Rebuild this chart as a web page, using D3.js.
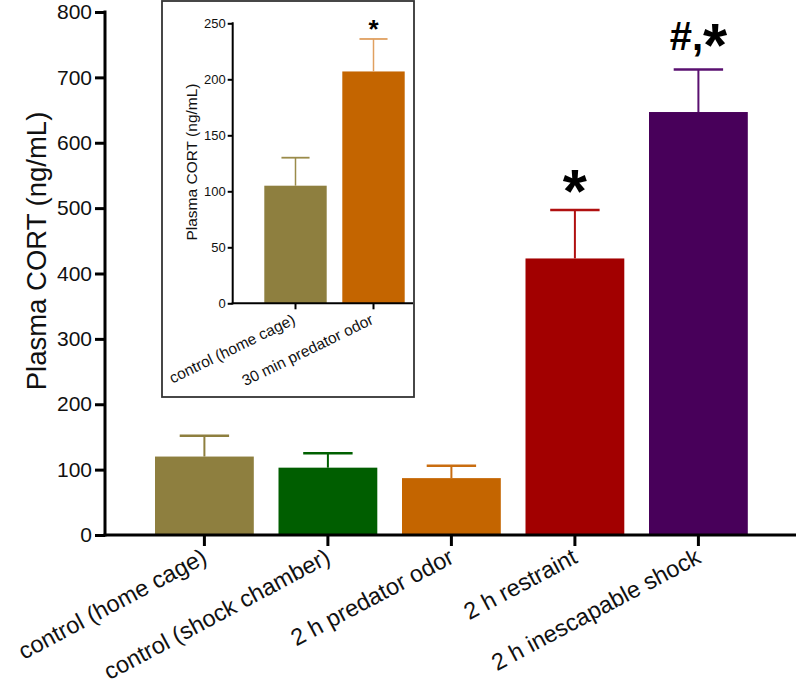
<!DOCTYPE html>
<html><head><meta charset="utf-8">
<script src="https://cdn.jsdelivr.net/npm/d3@7"></script>
<style>body{margin:0;background:#fff}svg{display:block}text{font-family:"Liberation Sans",Arial,sans-serif}</style>
</head><body>
<svg id="c" width="800" height="687"></svg>
<script>
const categories = ["control (home cage)", "control (shock chamber)", "2 h predator odor", "2 h restraint", "2 h inescapable shock"];
const means = [120, 103, 87, 423, 647];
const sems = [32, 22, 19, 74, 65];
const colors = ["#8e7f3f", "#005e00", "#c46500", "#a20000", "#48005a"];
const errColors = ["#8e7f3f", "#006000", "#c96d10", "#b01010", "#5a1070"];
const marks = ["", "", "", "*", "#,*"];
const yTicks = [0, 100, 200, 300, 400, 500, 600, 700, 800];

const insetCategories = ["control (home cage)", "30 min predator odor"];
const insetMeans = [105, 207];
const insetSems = [25, 29];
const insetColors = ["#8e7f3f", "#c46500"];
const insetErrColors = ["#9a8b4a", "#e0a060"];
const insetMarks = ["", "*"];
const insetTicks = [0, 50, 100, 150, 200, 250];

const svg = d3.select("#c");
const FONT = '"Liberation Sans",Arial,sans-serif';

// ---------- main chart ----------
const y = d3.scaleLinear().domain([0, 800]).range([535, 12]);
const x = d3.scaleBand().domain(categories).range([130.3, 772.5]).padding(0.2);
const g = svg.append("g");

g.selectAll("rect.bar").data(categories).join("rect")
  .attr("x", d => x(d)).attr("width", x.bandwidth())
  .attr("y", (d, i) => y(means[i])).attr("height", (d, i) => y(0) - y(means[i]))
  .attr("fill", (d, i) => colors[i]);

const capW = x.bandwidth() * 0.5;
g.selectAll("line.ev").data(categories).join("line")
  .attr("x1", d => x(d) + x.bandwidth() / 2).attr("x2", d => x(d) + x.bandwidth() / 2)
  .attr("y1", (d, i) => y(means[i])).attr("y2", (d, i) => y(means[i] + sems[i]))
  .attr("stroke", (d, i) => errColors[i]).attr("stroke-width", 2);
g.selectAll("line.ec").data(categories).join("line")
  .attr("x1", d => x(d) + x.bandwidth() / 2 - capW / 2).attr("x2", d => x(d) + x.bandwidth() / 2 + capW / 2)
  .attr("y1", (d, i) => y(means[i] + sems[i])).attr("y2", (d, i) => y(means[i] + sems[i]))
  .attr("stroke", (d, i) => errColors[i]).attr("stroke-width", 2.5);

// significance marks
categories.forEach((c, i) => {
  if (!marks[i]) return;
  const cx = x(c) + x.bandwidth() / 2;
  const t = g.append("text").attr("x", cx).attr("text-anchor", "middle").attr("font-weight", "bold").attr("fill", "#000");
  if (marks[i] === "*") {
    t.attr("y", y(means[i] + sems[i]) + 2).attr("font-size", 62).text("*");
  } else {
    t.attr("y", y(means[i] + sems[i]) - 20);
    t.append("tspan").attr("font-size", 40).text("#,");
    t.append("tspan").attr("font-size", 62).attr("dy", 16).text("*");
  }
});

// y axis
const yAxis = g.append("g").attr("transform", "translate(105,0)")
  .call(d3.axisLeft(y).tickValues(yTicks).tickSize(10).tickPadding(3).tickSizeOuter(0));
yAxis.select(".domain").attr("stroke-width", 3).attr("d", "M0,10.5V536.5");
yAxis.selectAll(".tick line").attr("stroke-width", 3);
yAxis.selectAll(".tick text").attr("font-size", 21).attr("fill", "#111").attr("font-family", FONT);

// x axis
const xAxis = g.append("g").attr("transform", "translate(0,535)")
  .call(d3.axisBottom(x).tickSize(11).tickSizeOuter(0).tickPadding(6));
xAxis.select(".domain").attr("stroke-width", 3).attr("d", "M103.5,0H796");
xAxis.selectAll(".tick line").attr("stroke-width", 3);
xAxis.selectAll(".tick text").attr("font-size", 23.5).attr("fill", "#111")
  .attr("font-family", FONT)
  .attr("text-anchor", "end").attr("dy", 0).attr("x", -9.15).attr("y", 25.7)
  .attr("transform", "rotate(-28)");

g.append("text").attr("transform", "translate(46,251) rotate(-90)").attr("text-anchor", "middle")
  .attr("font-size", 27.5).attr("fill", "#111").text("Plasma CORT (ng/mL)");

// ---------- inset ----------
const ins = svg.append("g");
ins.append("rect").attr("x", 162).attr("y", 1).attr("width", 252).attr("height", 396)
  .attr("fill", "#fff").attr("stroke", "#333").attr("stroke-width", 1.8);

const iy = d3.scaleLinear().domain([0, 250]).range([303.3, 23.3]);
const ix = d3.scaleBand().domain(insetCategories).range([248.7, 420.3]).padding(0.2);

ins.selectAll("rect.ib").data(insetCategories).join("rect")
  .attr("x", d => ix(d)).attr("width", ix.bandwidth())
  .attr("y", (d, i) => iy(insetMeans[i])).attr("height", (d, i) => iy(0) - iy(insetMeans[i]))
  .attr("fill", (d, i) => insetColors[i]);
const icap = ix.bandwidth() * 0.45;
ins.selectAll("line.iev").data(insetCategories).join("line")
  .attr("x1", d => ix(d) + ix.bandwidth() / 2).attr("x2", d => ix(d) + ix.bandwidth() / 2)
  .attr("y1", (d, i) => iy(insetMeans[i])).attr("y2", (d, i) => iy(insetMeans[i] + insetSems[i]))
  .attr("stroke", (d, i) => insetErrColors[i]).attr("stroke-width", 1.5);
ins.selectAll("line.iec").data(insetCategories).join("line")
  .attr("x1", d => ix(d) + ix.bandwidth() / 2 - icap / 2).attr("x2", d => ix(d) + ix.bandwidth() / 2 + icap / 2)
  .attr("y1", (d, i) => iy(insetMeans[i] + insetSems[i])).attr("y2", (d, i) => iy(insetMeans[i] + insetSems[i]))
  .attr("stroke", (d, i) => insetErrColors[i]).attr("stroke-width", 1.8);
insetCategories.forEach((c, i) => {
  if (!insetMarks[i]) return;
  ins.append("text").attr("x", ix(c) + ix.bandwidth() / 2).attr("y", iy(insetMeans[i] + insetSems[i]) - 1)
    .attr("text-anchor", "middle").attr("font-size", 26).attr("font-weight", "bold").text(insetMarks[i]);
});

const iyAxis = ins.append("g").attr("transform", "translate(232.7,0)")
  .call(d3.axisLeft(iy).tickValues(insetTicks).tickSize(5).tickPadding(2).tickSizeOuter(0));
iyAxis.select(".domain").attr("stroke-width", 2).attr("d", "M0,22.3V304.3");
iyAxis.selectAll(".tick line").attr("stroke-width", 2);
iyAxis.selectAll(".tick text").attr("font-size", 13).attr("fill", "#111").attr("font-family", FONT);

const ixAxis = ins.append("g").attr("transform", "translate(0,303.3)")
  .call(d3.axisBottom(ix).tickSize(6).tickSizeOuter(0));
ixAxis.select(".domain").attr("stroke-width", 2).attr("d", "M231.7,0H413");
ixAxis.selectAll(".tick line").attr("stroke-width", 2);
ixAxis.selectAll(".tick text").attr("font-size", 15.5).attr("fill", "#111")
  .attr("font-family", FONT)
  .attr("text-anchor", "end").attr("dy", 0).attr("x", -7.9).attr("y", 18.4)
  .attr("transform", "rotate(-26)");

ins.append("text").attr("transform", "translate(197,162) rotate(-90)").attr("text-anchor", "middle")
  .attr("font-size", 15.5).attr("fill", "#111").text("Plasma CORT (ng/mL)");
</script>
</body></html>
